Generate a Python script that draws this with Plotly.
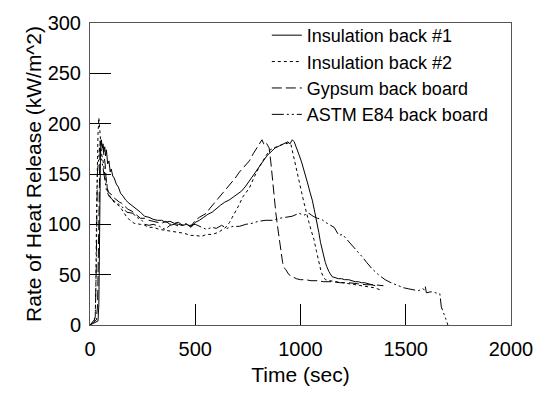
import plotly.graph_objects as go

# ---- data ----
T1 = [0, 10, 20, 30, 38, 42, 46, 50, 54, 58,
      62, 66, 70, 74, 78, 84, 90, 96, 101, 108,
      115, 125, 135, 145, 157, 170, 185, 204, 220, 240,
      259, 280, 300, 320, 340, 360, 380, 400, 420, 440,
      460, 480, 500, 520, 540, 560, 580, 600, 620, 640,
      660, 680, 700, 720, 740, 760, 780, 800, 820, 840,
      860, 880, 900, 920, 940, 950, 961, 970, 978, 985,
      995, 1005, 1015, 1024, 1035, 1045, 1056, 1068, 1079, 1087,
      1095, 1103, 1110, 1118, 1125, 1135, 1150, 1165, 1180, 1195,
      1210, 1229, 1245, 1260, 1275, 1290, 1305, 1320, 1340, 1355]
V1 = [0, 1, 2, 3, 4, 20, 120, 175, 184, 176,
      180, 172, 177, 168, 174, 160, 163, 152, 155, 148,
      146, 140, 137, 131, 128, 124, 121, 118, 116, 112,
      108, 107, 105, 104, 104, 102, 103, 101, 100, 99,
      100, 97, 102, 104, 107, 110, 112, 116, 119, 122,
      124, 127, 130, 133, 138, 144, 150, 157, 162, 168,
      172, 176, 178, 180, 182, 180, 184, 182, 178, 173,
      168, 162, 155, 150, 140, 132, 124, 112, 102, 92,
      82, 74, 68, 62, 58, 53, 48, 47, 46, 46,
      45, 45, 44, 43, 43, 42, 42, 41, 40, 39]

T2 = [0, 10, 20, 25, 28, 31, 34, 38, 42, 46,
      50, 55, 62, 70, 78, 86, 95, 105, 120, 141,
      160, 172, 190, 210, 239, 260, 280, 300, 330, 360,
      390, 420, 450, 475, 500, 530, 553, 580, 610, 631,
      650, 663, 680, 695, 710, 725, 740, 757, 780, 804,
      830, 851, 870, 890, 910, 930, 946, 955, 961, 975,
      993, 1005, 1017, 1028, 1040, 1052, 1064, 1076, 1088, 1098,
      1108, 1119, 1140, 1170, 1200, 1229, 1260, 1290, 1320, 1350,
      1378]
V2 = [0, 2, 4, 10, 40, 110, 160, 190, 206, 195,
      182, 170, 163, 150, 143, 132, 128, 124, 121, 118,
      112, 108, 104, 101, 100, 99, 97, 97, 95, 94,
      93, 92, 91, 89, 89, 88, 90, 90, 92, 95,
      98, 102, 108, 114, 120, 127, 131, 136, 147, 157,
      166, 173, 176, 177, 179, 180, 181, 179, 173, 160,
      144, 132, 121, 111, 102, 93, 85, 73, 60, 53,
      48, 45, 44, 43, 42, 41, 40, 39, 38, 37,
      35]

T3 = [0, 10, 20, 30, 36, 40, 44, 48, 52, 56,
      60, 66, 72, 78, 85, 92, 100, 110, 125, 140,
      150, 165, 180, 200, 220, 240, 260, 280, 300, 320,
      340, 360, 380, 400, 420, 440, 460, 480, 500, 520,
      540, 553, 570, 590, 610, 631, 650, 670, 690, 710,
      730, 757, 775, 790, 805, 817, 825, 835, 845, 851,
      859, 867, 875, 883, 891, 899, 907, 915, 922, 930,
      945, 961, 980, 1000, 1024, 1050, 1080, 1110, 1150, 1190,
      1230, 1270, 1310, 1350, 1394]
V3 = [0, 2, 3, 5, 20, 90, 160, 183, 180, 176,
      178, 170, 160, 140, 133, 131, 130, 127, 124, 122,
      121, 118, 115, 113, 109, 106, 106, 104, 103, 102,
      101, 103, 100, 101, 102, 99, 100, 98, 104, 107,
      109, 111, 116, 121, 126, 131, 135, 140, 146, 152,
      157, 163, 170, 175, 180, 184, 180, 182, 178, 176,
      162, 143, 127, 111, 98, 85, 72, 62, 57, 55,
      50, 48, 46, 45, 45, 44, 44, 43, 43, 42,
      42, 41, 40, 40, 39]

T4 = [0, 10, 20, 25, 30, 35, 40, 45, 50, 55,
      60, 68, 78, 90, 109, 130, 150, 175, 204, 220,
      243, 260, 280, 300, 330, 357, 380, 400, 425, 450,
      475, 500, 525, 553, 580, 600, 625, 650, 680, 710,
      740, 770, 800, 835, 867, 900, 930, 960, 993, 1015,
      1040, 1060, 1080, 1100, 1119, 1140, 1160, 1182, 1200, 1220,
      1245, 1270, 1292, 1315, 1339, 1370, 1402, 1430, 1465, 1490,
      1512, 1535, 1559, 1580, 1590, 1593, 1598, 1620, 1640, 1653,
      1662, 1669, 1677, 1685, 1692, 1700]
V4 = [0, 3, 5, 8, 60, 150, 170, 176, 172, 165,
      160, 148, 134, 128, 124, 121, 118, 112, 111, 107,
      105, 100, 99, 100, 98, 95, 99, 100, 98, 101,
      99, 100, 98, 95, 97, 96, 99, 96, 98, 98,
      100, 101, 103, 104, 104, 106, 107, 108, 111, 109,
      111, 108, 106, 105, 102, 99, 97, 89, 90, 85,
      79, 74, 68, 62, 56, 50, 45, 42, 39, 37,
      36, 35, 34, 36, 35, 38, 32, 33, 32, 32,
      31, 18, 14, 10, 5, 0]

NAMES = ["Insulation back #1", "Insulation back #2",
         "Gypsum back board", "ASTM E84 back board"]
X_TICKS = [0, 500, 1000, 1500, 2000]
Y_TICKS = [0, 50, 100, 150, 200, 250, 300]
X_TITLE = "Time (sec)"
Y_TITLE = "Rate of Heat Release (kW/m^2)"

series = [(T1, V1), (T2, V2), (T3, V3), (T4, V4)]
dashes = ["solid", "dot", "10px,4px", "12px,3px,2px,3px,2px,3px"]

FONT = "Liberation Sans, Arial, sans-serif"

fig = go.Figure()
for (t, v), name, d in zip(series, NAMES, dashes):
    fig.add_trace(go.Scatter(x=t, y=v, mode="lines", name=name,
                             line=dict(color="black", width=1, dash=d)))

axis_common = dict(showgrid=False, zeroline=False, showline=True, mirror=True,
                   linecolor="#555", linewidth=1, ticks="inside", ticklen=21,
                   tickwidth=1, tickcolor="black",
                   tickfont=dict(family=FONT, size=20, color="black"))
fig.update_xaxes(range=[0, 2000], tickvals=X_TICKS, ticklabelstandoff=6, **axis_common,
                 title=dict(text=X_TITLE, font=dict(family=FONT, size=21, color="black"),
                            standoff=8))
fig.update_yaxes(range=[0, 300], tickvals=Y_TICKS, ticklabelstandoff=4, **axis_common,
                 title=dict(text=Y_TITLE, font=dict(family=FONT, size=21, color="black"),
                            standoff=0))

fig.update_layout(
    width=545, height=402,
    margin=dict(l=89.5, r=32, t=15, b=77, pad=0),
    plot_bgcolor="white", paper_bgcolor="white",
    font=dict(family=FONT, size=18, color="black"),
    legend=dict(x=0.42, y=1.02, xanchor="left", yanchor="top",
                bgcolor="rgba(0,0,0,0)", borderwidth=0,
                font=dict(family=FONT, size=18, color="black"),
                tracegroupgap=0),
)

fig.write_html("out.html")
